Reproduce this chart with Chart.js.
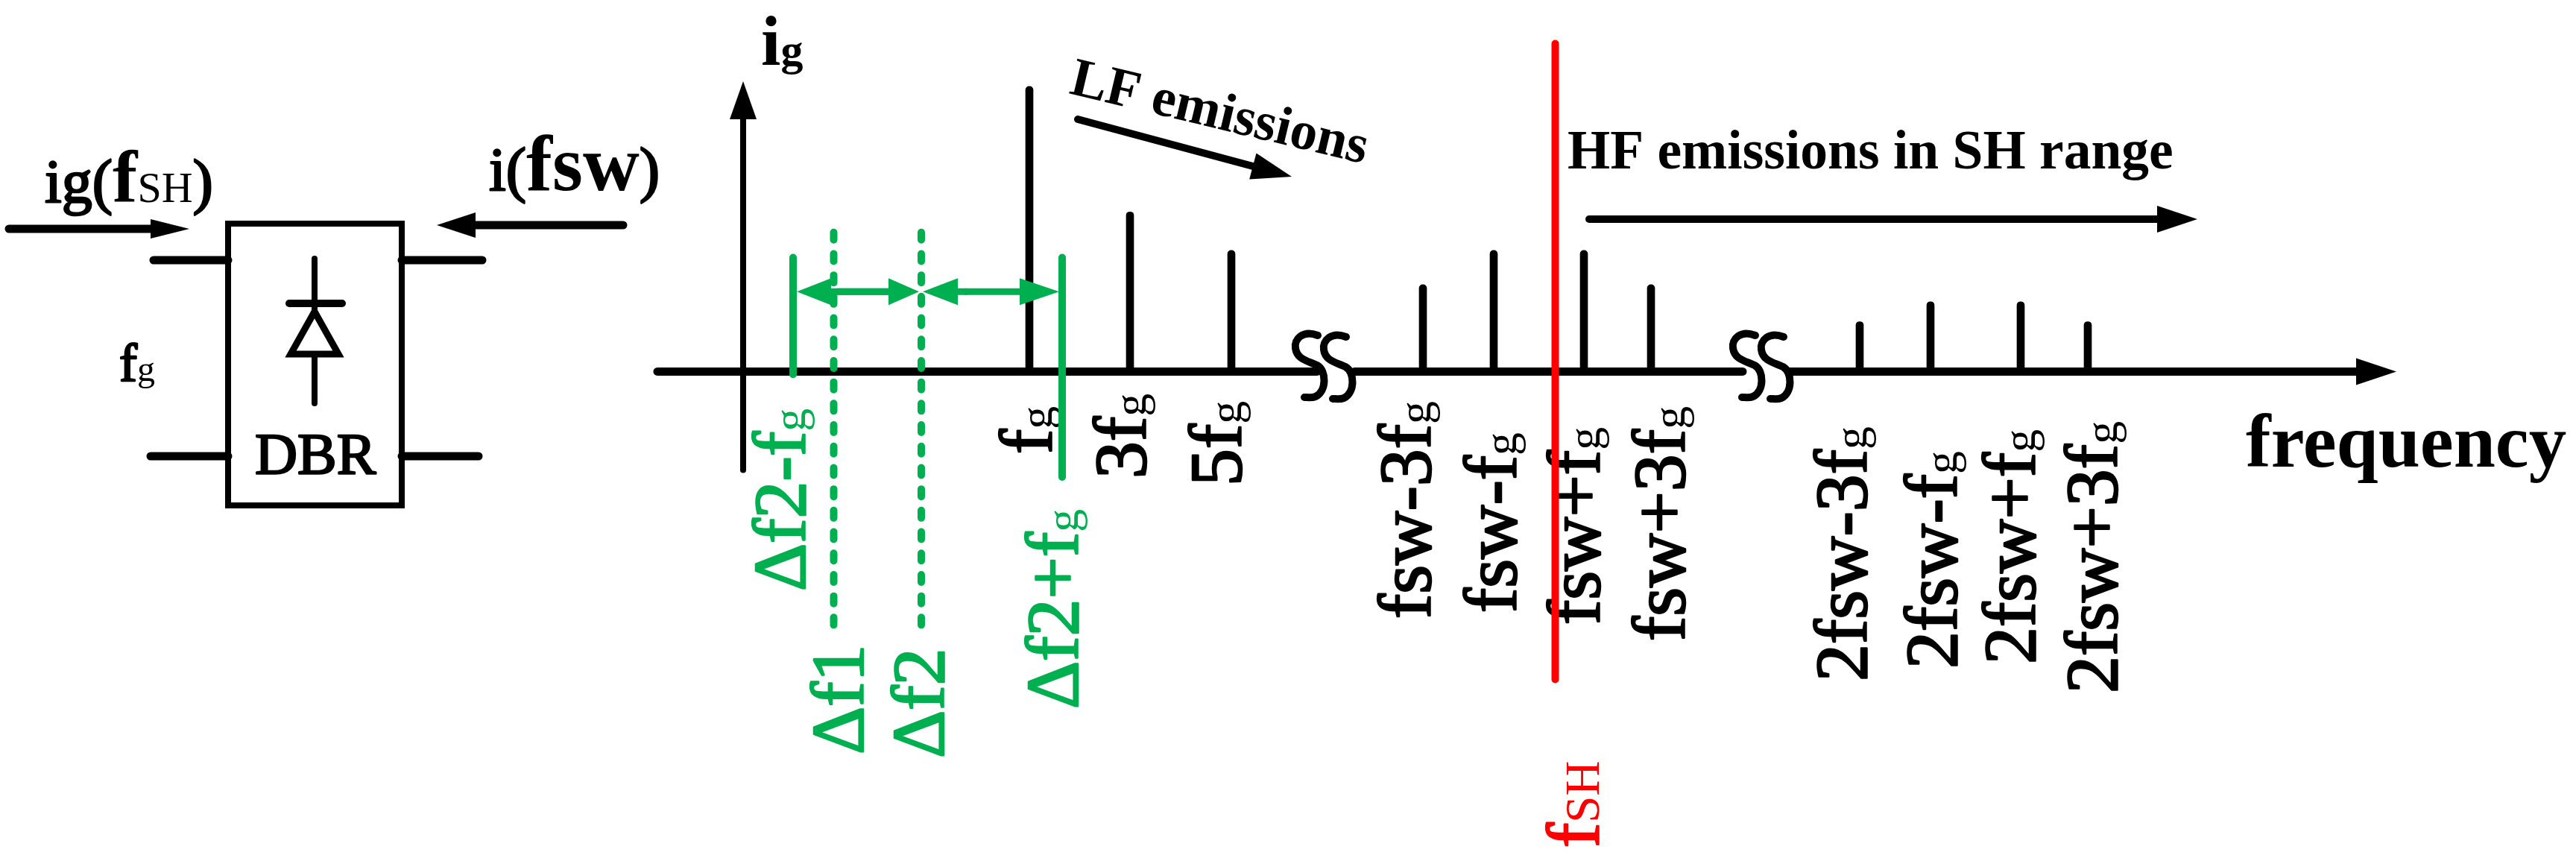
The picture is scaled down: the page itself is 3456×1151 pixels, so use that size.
<!DOCTYPE html>
<html>
<head>
<meta charset="utf-8">
<title>Spectrum</title>
<script src="https://cdn.jsdelivr.net/npm/chart.js@4/dist/chart.umd.min.js"></script>
<style>
    html, body { margin: 0; padding: 0; background: #fff; }
    canvas { display: block; }
</style>
</head>
<body>
<canvas id="myChart" width="3456" height="1151"></canvas>
<script>
// spectral lines, x in schematic frequency units, y in % of the fundamental
var lineLabels = ['fg', '3fg', '5fg', 'fsw-3fg', 'fsw-fg', 'fsw+fg', 'fsw+3fg', '2fsw-3fg', '2fsw-fg', '2fsw+fg', '2fsw+3fg'];
var lineFreq = [384, 519, 655, 912, 1007, 1128, 1218, 1498, 1593, 1714, 1804];
var lineAmp = [100, 56, 42.5, 30.5, 42.5, 42.5, 30.5, 17.5, 24.5, 24.5, 17.5];

// green side bands and beat frequencies
var bandLabels = ['Δf2-fg', 'Δf2+fg'];
var bandFreq = [67, 428];
var bandTop = [40, 40];
var bandBottom = [-1, -37];
var beatLabels = ['Δf1', 'Δf2'];
var beatFreq = [121.5, 239];
var beatTop = [48.8, 48.8];
var beatBottom = [-90, -90];

// red supraharmonic marker
var shLabel = 'fSH';
var shFreq = 1089.5;
var shTop = 115;
var shBottom = -108;

// axis pieces, the gaps are the two breaks
var axisStart = [-115, 820, 1404];
var axisEnd = [770, 1341, 2168];
var breakFreq = [741, 1328];
var yAxisTop = 90;
var yAxisBottom = -34.5;

var BLACK = '#000';
var GREEN = '#00B050';
var RED = '#FF0000';
var SERIF = '"Liberation Serif", serif';

// label anchors: baseline offset from the tick, and where the text starts
var lineLabelDx = [30, 21, 13, 10, 29.5, 21, 45, 9, 35, 19, 39];
var lineLabelY = [609, 642, 652, 830, 822, 838, 860, 914, 897, 891, 930];
var bandLabelDx = [16, 21];
var bandLabelY = [793, 951];
var beatLabelDx = [39.5, 30];
var beatLabelY = [1012, 1017];

var vline = function(x, top, bottom, color, width, order, dash) {
    return {
        type: 'line',
        data: [{ x: x, y: top }, { x: x, y: bottom }],
        borderColor: color,
        borderWidth: width,
        borderCapStyle: 'round',
        borderDash: dash || [],
        pointRadius: 0,
        fill: false,
        order: order
    };
};

var datasets = [{
    type: 'bar',
    data: lineFreq.map(function(f, i) { return { x: f, y: lineAmp[i] }; }),
    backgroundColor: BLACK,
    barThickness: 10,
    grouped: false,
    borderRadius: 5,
    borderSkipped: 'bottom',
    order: 2
}];

axisStart.forEach(function(s, i) {
    datasets.push({
        type: 'line',
        data: [{ x: s, y: 0 }, { x: axisEnd[i], y: 0 }],
        borderColor: BLACK,
        borderWidth: 11,
        borderCapStyle: 'round',
        pointRadius: 0,
        fill: false,
        order: 3
    });
});
datasets.push(vline(0, yAxisTop, yAxisBottom, BLACK, 8, 3));
bandFreq.forEach(function(f, i) {
    datasets.push(vline(f, bandTop[i], bandBottom[i], GREEN, 10, 1));
});
beatFreq.forEach(function(f, i) {
    datasets.push(vline(f, beatTop[i], beatBottom[i], GREEN, 10, 1, [10, 18.7]));
});
datasets.push(vline(shFreq, shTop, shBottom, RED, 10, 0));

// text with mixed sizes, parts are [text, size, weight]
// medium is the regular face with a thin outline, there is no such face installed
var rich = function(c, parts, x, y, angle, color) {
    c.save();
    c.translate(x, y);
    c.rotate(angle);
    c.fillStyle = color;
    c.strokeStyle = color;
    c.lineWidth = 2.5;
    c.lineJoin = 'round';
    c.textBaseline = 'alphabetic';
    c.textAlign = 'left';
    var pos = 0;
    parts.forEach(function(p) {
        var medium = p[2] === 'medium';
        c.font = (medium ? 'normal' : (p[2] || 'normal')) + ' ' + p[1] + 'px ' + SERIF;
        c.fillText(p[0], pos, 0);
        if (medium) {
            c.strokeText(p[0], pos, 0);
        }
        pos += c.measureText(p[0]).width;
    });
    c.restore();
};

var subG = function(label) {
    if (label.slice(-1) === 'g') {
        return [[label.slice(0, -1), 100, 'medium'], ['g', 62]];
    }
    return [[label, 100, 'medium']];
};

var arrow = function(c, x0, y0, x1, y1, len, half, color, width) {
    var a = Math.atan2(y1 - y0, x1 - x0);
    c.save();
    c.strokeStyle = color;
    c.fillStyle = color;
    c.lineWidth = width;
    c.lineCap = 'round';
    c.beginPath();
    c.moveTo(x0, y0);
    c.lineTo(x1 - Math.cos(a) * len, y1 - Math.sin(a) * len);
    c.stroke();
    c.translate(x1, y1);
    c.rotate(a);
    c.beginPath();
    c.moveTo(0, 0);
    c.lineTo(-len, -half);
    c.lineTo(-len, half);
    c.closePath();
    c.fill();
    c.restore();
};

var segment = function(c, x0, y0, x1, y1, width) {
    c.lineWidth = width;
    c.beginPath();
    c.moveTo(x0, y0);
    c.lineTo(x1, y1);
    c.stroke();
};

//the DBR block on the left
var drawBlock = function(c) {
    c.save();
    c.strokeStyle = BLACK;
    c.lineCap = 'round';
    c.lineJoin = 'miter';
    segment(c, 206, 349, 306, 349, 11);
    segment(c, 539, 349, 647, 349, 11);
    segment(c, 202, 612, 306, 612, 11);
    segment(c, 539, 612, 642, 612, 11);
    c.lineWidth = 8;
    c.strokeRect(306, 300, 233, 378);
    segment(c, 422, 347, 422, 541, 8);
    segment(c, 388, 407, 459, 407, 10);
    c.lineWidth = 9;
    c.fillStyle = '#fff';
    c.beginPath();
    c.moveTo(422, 418);
    c.lineTo(390, 475);
    c.lineTo(454, 475);
    c.closePath();
    c.fill();
    c.stroke();
    c.restore();
    arrow(c, 12, 307, 254, 307, 52, 13, BLACK, 11);
    arrow(c, 836, 302, 586, 302, 52, 17, BLACK, 11);
    rich(c, [['DBR', 79, 'medium']], 342, 635, 0, BLACK);
    rich(c, [['f', 72, 'medium'], ['g', 48]], 160, 511, 0, BLACK);
    rich(c, [['ig(', 82, 'medium'], ['f', 100, 'bold'], ['SH', 58], [')', 82, 'medium']], 60, 271, 0, BLACK);
    rich(c, [['i(', 82, 'medium'], ['fsw', 105, 'bold'], [')', 82, 'medium']], 656, 255, 0, BLACK);
};

//the S shaped break marks
var drawBreak = function(c, px) {
    c.save();
    c.strokeStyle = BLACK;
    c.lineWidth = 10;
    c.lineCap = 'round';
    [0, 38].forEach(function(d) {
        var x = px + d;
        var y = d ? 2 : 0;
        c.beginPath();
        c.moveTo(x + 30, y + 450);
        c.bezierCurveTo(x + 10, y + 442, x - 2, y + 455, x, y + 467);
        c.bezierCurveTo(x + 2, y + 482, x + 16, y + 484, x + 29, y + 490);
        c.bezierCurveTo(x + 42, y + 497, x + 42, y + 525, x + 27, y + 532);
        c.bezierCurveTo(x + 22, y + 534, x + 16, y + 533, x + 12, y + 533);
        c.stroke();
    });
    c.restore();
};

var textPlugin = {
    id: 'textPlugin',
    beforeDatasetsDraw: function(chart) {
        var c = chart.ctx;
        var sx = chart.scales.x;
        var up = -Math.PI / 2;
        lineLabels.forEach(function(l, i) {
            rich(c, subG(l), sx.getPixelForValue(lineFreq[i]) + lineLabelDx[i], lineLabelY[i], up, BLACK);
        });
        bandLabels.forEach(function(l, i) {
            rich(c, subG(l), sx.getPixelForValue(bandFreq[i]) + bandLabelDx[i], bandLabelY[i], up, GREEN);
        });
        beatLabels.forEach(function(l, i) {
            rich(c, subG(l), sx.getPixelForValue(beatFreq[i]) + beatLabelDx[i], beatLabelY[i], up, GREEN);
        });
        rich(c, [['f', 100, 'medium'], [shLabel.slice(1), 65]], sx.getPixelForValue(shFreq) + 58, 1137, up, RED);
        rich(c, [['i', 95, 'bold'], ['g', 60, 'bold']], 1021, 87, 0, BLACK);
        rich(c, [['LF emissions', 73, 'bold']], 1433, 125, 0.234, BLACK);
        rich(c, [['HF emissions in SH range', 73.5, 'bold']], 2103, 226, 0, BLACK);
        rich(c, [['frequency', 101, 'bold']], 3013, 626, 0, BLACK);
        drawBlock(c);
    },
    afterDatasetsDraw: function(chart) {
        var c = chart.ctx;
        var sx = chart.scales.x;
        var sy = chart.scales.y;
        var y0 = sy.getPixelForValue(0);
        var left = sx.getPixelForValue(bandFreq[0]);
        var mid = sx.getPixelForValue(beatFreq[1]);
        var right = sx.getPixelForValue(bandFreq[1]);
        var gy = sy.getPixelForValue(28);

        breakFreq.forEach(function(f) { drawBreak(c, sx.getPixelForValue(f)); });
        arrow(c, sx.getPixelForValue(axisEnd[2]), y0, 3215, y0, 54, 18, BLACK, 11);
        arrow(c, sx.getPixelForValue(0), sy.getPixelForValue(yAxisTop), sx.getPixelForValue(0), 109, 51, 18, BLACK, 8);
        arrow(c, 1446, 160, 1733, 237, 54, 18, BLACK, 10);
        arrow(c, 2132, 294, 2948, 294, 54, 18, BLACK, 10);

        arrow(c, mid - 30, gy, left + 5, gy, 46, 18, GREEN, 9);
        arrow(c, left + 60, gy, mid - 3, gy, 41, 18, GREEN, 9);
        arrow(c, mid + 60, gy, mid + 2, gy, 47, 18, GREEN, 9);
        arrow(c, mid + 60, gy, right - 4, gy, 53, 18, GREEN, 9);
    }
};

Chart.register(textPlugin);

var ctx = document.getElementById('myChart');
var chart = new Chart(ctx, {
    type: 'bar',
    data: { datasets: datasets },
    options: {
        responsive: false,
        devicePixelRatio: 1,
        animation: false,
        layout: { padding: 0 },
        plugins: {
            legend: { display: false },
            tooltip: { enabled: false }
        },
        scales: {
            x: { type: 'linear', offset: false, min: -997, max: 2459, display: false },
            y: { type: 'linear', min: -170.6, max: 130.3, display: false }
        }
    }
});
</script>
</body>
</html>
